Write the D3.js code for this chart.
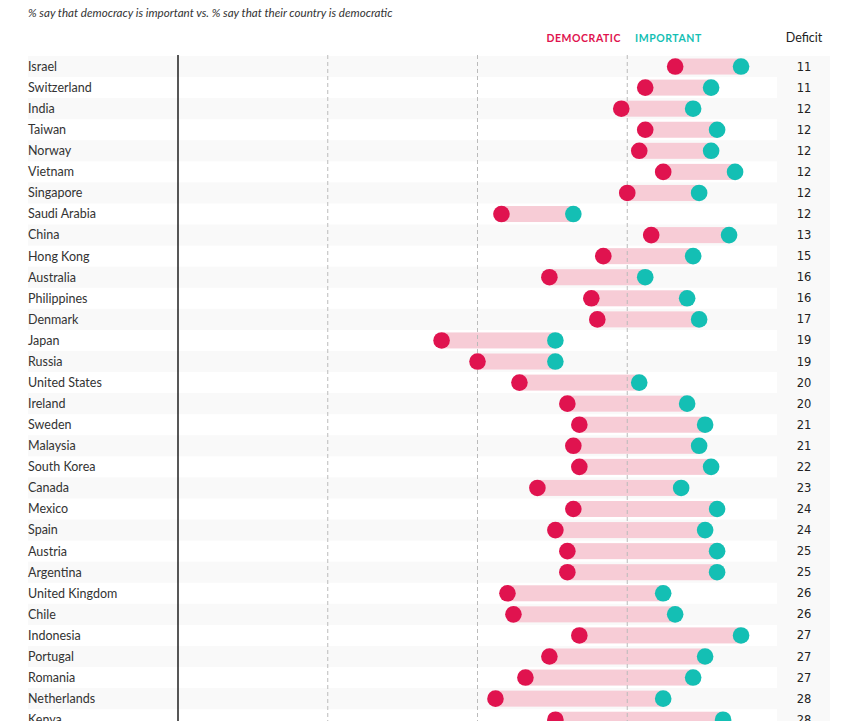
<!DOCTYPE html>
<html><head><meta charset="utf-8">
<script src="https://cdn.jsdelivr.net/npm/d3@7"></script>
<style>
body{margin:0;background:#fff;}
svg{display:block;font-family:Lato,"Noto Sans",sans-serif;}
</style></head><body>
<svg id="chart" width="849" height="721"></svg>
<script>
const countries = ["Israel","Switzerland","India","Taiwan","Norway","Vietnam","Singapore","Saudi Arabia","China","Hong Kong","Australia","Philippines","Denmark","Japan","Russia","United States","Ireland","Sweden","Malaysia","South Korea","Canada","Mexico","Spain","Austria","Argentina","United Kingdom","Chile","Indonesia","Portugal","Romania","Netherlands","Kenya"];
const democratic = [83,78,74,78,77,81,75,54,79,71,62,69,70,44,50,57,65,67,66,67,60,66,63,65,65,55,56,67,62,58,53,63];
const important  = [94,89,86,90,89,93,87,66,92,86,78,85,87,63,63,77,85,88,87,89,84,90,88,90,90,81,83,94,88,86,81,91];
const deficit    = [11,11,12,12,12,12,12,12,13,15,16,16,17,19,19,20,20,21,21,22,23,24,24,25,25,26,26,27,27,27,28,28];
const gridTicks = [25,50,75];

const svg = d3.select("#chart");
const x = d3.scaleLinear().domain([0,100]).range([178,777]);
const y = d3.scaleBand().domain(countries).range([56,56+21.07*countries.length]).padding(0);
const RED = "#e0134f", TEAL = "#14bfb4", PINK = "#f7ccd6";

// subtitle
svg.append("text").attr("x",28).attr("y",17).attr("font-size",11.6).attr("font-style","italic")
  .attr("fill","#333").text("% say that democracy is important vs. % say that their country is democratic");

// legend
svg.append("text").attr("x",621).attr("y",42).attr("text-anchor","end").attr("font-size",10.5)
  .attr("font-weight","bold").attr("letter-spacing",0.55).attr("fill",RED).text("DEMOCRATIC");
svg.append("text").attr("x",635).attr("y",42).attr("font-size",10.5)
  .attr("font-weight","bold").attr("letter-spacing",0.55).attr("fill",TEAL).text("IMPORTANT");
svg.append("text").attr("x",804).attr("y",42).attr("text-anchor","middle").attr("font-size",12.5)
  .attr("fill","#222").text("Deficit");

// deficit column background
svg.append("rect").attr("x",777).attr("y",y.range()[0]).attr("width",53)
  .attr("height",y.range()[1]-y.range()[0]).attr("fill","#f9f9f9");

// stripes
svg.append("g").selectAll("rect").data(countries.filter((d,i)=>i%2===0)).join("rect")
  .attr("x",28).attr("y",d=>y(d)).attr("width",x(100)-28).attr("height",y.bandwidth())
  .attr("fill","#f9f9f9");

// labels
svg.append("g").selectAll("text").data(countries).join("text")
  .attr("x",28).attr("y",d=>y(d)+y.bandwidth()/2).attr("dy","0.35em")
  .attr("font-size",12.5).attr("fill","#333").text(d=>d);

// bars
const rows = countries.map((c,i)=>({c, dem:democratic[i], imp:important[i], def:deficit[i]}));
svg.append("g").selectAll("rect").data(rows).join("rect")
  .attr("x",d=>x(d.dem)).attr("y",d=>y(d.c)+y.bandwidth()/2-8)
  .attr("width",d=>x(d.imp)-x(d.dem)).attr("height",16).attr("fill",PINK);

// grid lines
svg.append("line").attr("x1",x(0)).attr("x2",x(0)).attr("y1",55).attr("y2",721)
  .attr("stroke","#111").attr("stroke-width",1.4);
svg.append("g").selectAll("line").data(gridTicks).join("line")
  .attr("x1",d=>x(d)).attr("x2",d=>x(d)).attr("y1",55).attr("y2",721)
  .attr("stroke","#bbb").attr("stroke-width",1).attr("stroke-dasharray","4,3");

// dots
svg.append("g").selectAll("circle").data(rows).join("circle")
  .attr("cx",d=>x(d.dem)).attr("cy",d=>y(d.c)+y.bandwidth()/2).attr("r",8.3).attr("fill",RED);
svg.append("g").selectAll("circle").data(rows).join("circle")
  .attr("cx",d=>x(d.imp)).attr("cy",d=>y(d.c)+y.bandwidth()/2).attr("r",8.3).attr("fill",TEAL);

// deficit numbers
svg.append("g").selectAll("text").data(rows).join("text")
  .attr("x",804).attr("y",d=>y(d.c)+y.bandwidth()/2).attr("dy","0.35em").attr("text-anchor","middle")
  .attr("font-family","'DejaVu Sans',sans-serif").attr("font-size",11.5).attr("fill","#222").text(d=>d.def);
</script></body></html>
